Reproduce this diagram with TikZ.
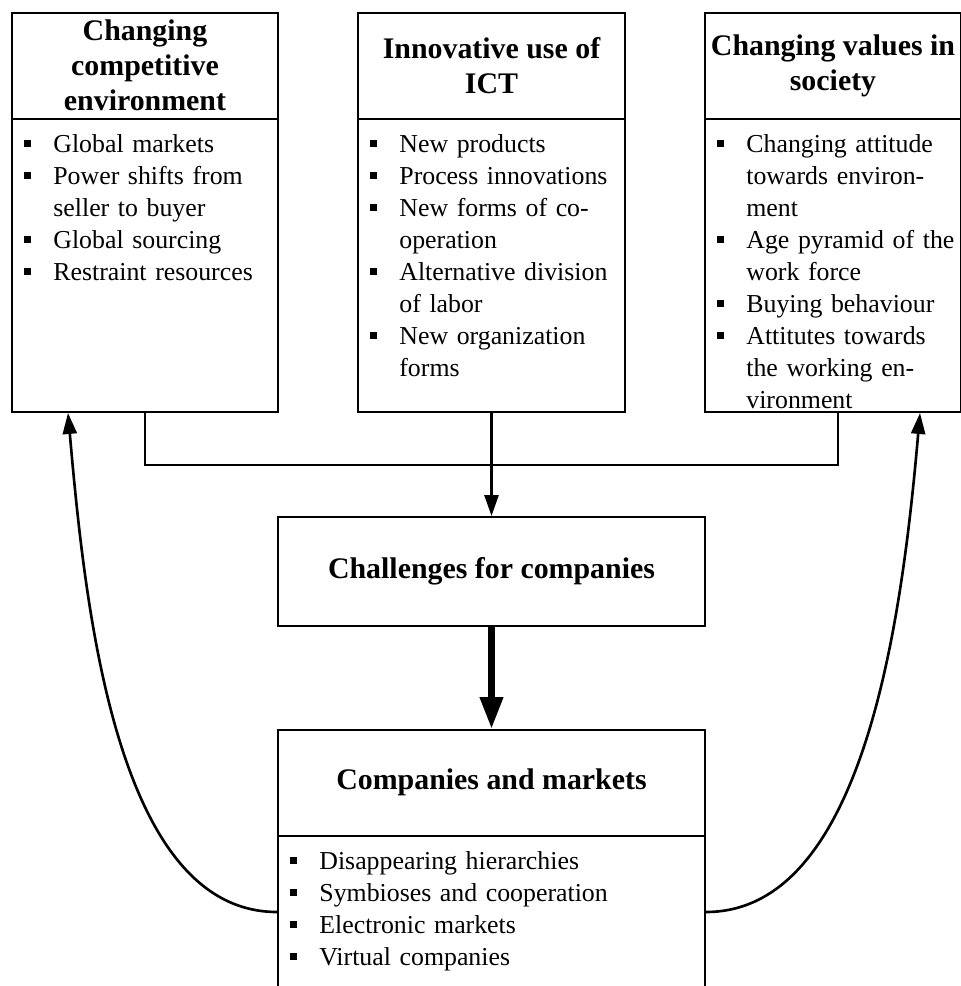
\documentclass[tikz,border=0pt]{standalone}
\usepackage{fontspec}
\setmainfont{Liberation Serif}
\usetikzlibrary{arrows.meta}
\newcommand{\itm}{\par\noindent\hangindent=0.58cm\hangafter=1\makebox[0.58cm][l]{\rule[3.2pt]{3.7pt}{3.7pt}}}

\begin{document}
\begin{tikzpicture}[
  box/.style = {draw, line width=1.1pt, inner sep=0pt},
  head/.style = {align=center, font=\fontsize{17}{19.8}\selectfont\bfseries},
  lst/.style = {anchor=north west, inner sep=0pt, text width=5cm, align=left, font=\fontsize{14.7}{18.2}\selectfont},
  link/.style = {line width=1.5pt},
  tip/.style = {-{Triangle[length=0.42cm,width=0.28cm]}}
  ]
\useasboundingbox (0,0) rectangle (19.2,19.72);

\node [box, minimum width=5.32cm, minimum height=7.98cm] (env) at (2.90,15.47) {};
\node [box, minimum width=5.34cm, minimum height=7.98cm] (ict) at (9.83,15.47) {};
\node [box, minimum width=5.12cm, minimum height=7.98cm] (soc) at (16.66,15.47) {};
\node [box, minimum width=8.54cm, minimum height=2.18cm] (chal) at (9.83,8.29) {};
\node [box, minimum width=8.54cm, minimum height=5.42cm] (cm) at (9.83,2.41) {};
\foreach \bx in {env,ict,soc,cm}
  \draw [line width=1.5pt] ([yshift=-2.14cm]\bx.north west) -- ([yshift=-2.14cm]\bx.north east);

\node [head] (envt) at ([yshift=-1.07cm]env.north) {Changing\\competitive\\environment};
\node [head] (ictt) at ([yshift=-1.07cm]ict.north) {Innovative use of\\ICT};
\node [head] (soct) at ([yshift=-1.07cm]soc.north) {Changing values in\\society};
\node [head] (chalt) at (chal.center) {Challenges for companies};
\node [head] (cmt) at ([yshift=-1.07cm]cm.north) {Companies and markets};

\node [lst] (envl) at ([xshift=0.26cm,yshift=-2.16cm]env.north west) {\itm Global markets
  \itm Power shifts from\newline seller to buyer \itm Global sourcing \itm Restraint resources\par};
\node [lst] (ictl) at ([xshift=0.26cm,yshift=-2.16cm]ict.north west) {\itm New products
  \itm Process innovations \itm New forms of co-\newline operation \itm Alternative division\newline of labor
  \itm New organization\newline forms\par};
\node [lst] (socl) at ([xshift=0.26cm,yshift=-2.16cm]soc.north west) {\itm Changing attitude\newline towards environ-\newline ment
  \itm Age pyramid of the\newline work force \itm Buying behaviour \itm Attitutes towards\newline the working en-\newline vironment\par};
\node [lst, text width=8cm] (cml) at ([xshift=0.26cm,yshift=-2.16cm]cm.north west) {\itm Disappearing hierarchies
  \itm Symbioses and cooperation \itm Electronic markets \itm Virtual companies\par};

\coordinate (jn) at (9.83,10.42);
\draw [link] (env.south) |- (jn) -| ([xshift=0.1cm]soc.south);
\draw [link, tip] (ict.south) -- (chal.north);
\draw [line width=4pt, -{Triangle[length=0.64cm,width=0.44cm]}] (chal.south) -- (cm.north);
\coordinate (envin) at ([xshift=-1.54cm]env.south);
\coordinate (socin) at ([xshift=1.74cm]soc.south);
\draw [link, tip] ([yshift=-0.93cm]cm.west) to [out=180, in=-85, out distance=3.2cm, in distance=4cm] (envin);
\draw [link, tip] ([yshift=-0.93cm]cm.east) to [out=0, in=-95, out distance=3.2cm, in distance=4cm] (socin);
\end{tikzpicture}
\end{document}
